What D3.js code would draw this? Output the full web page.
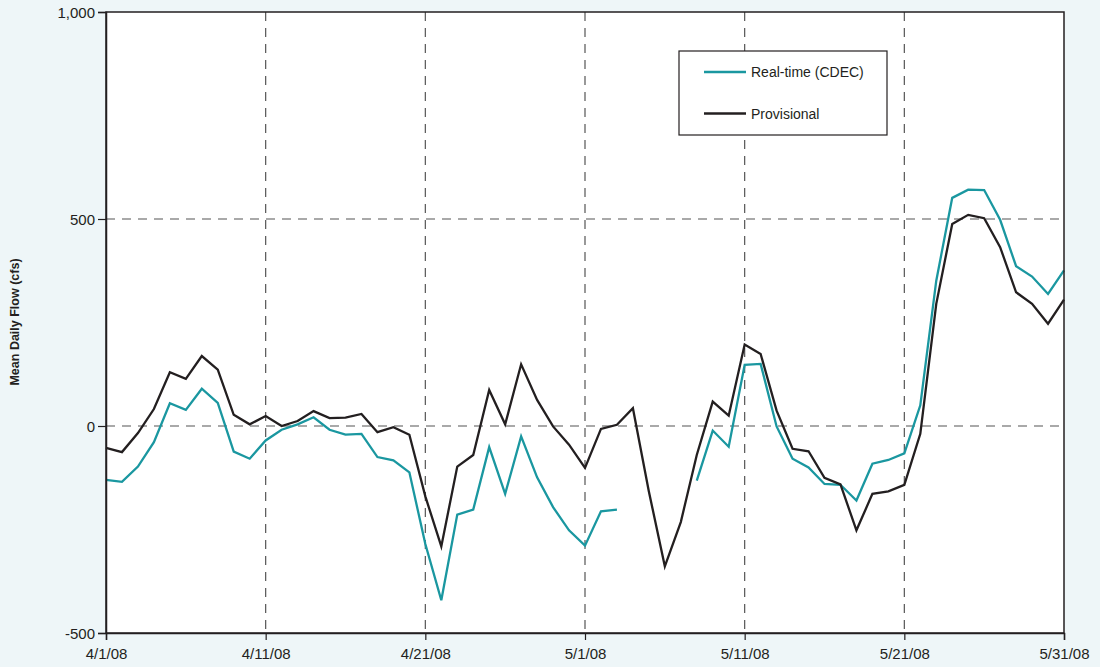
<!DOCTYPE html>
<html><head><meta charset="utf-8">
<script src="https://cdn.jsdelivr.net/npm/d3@7"></script>
<style>
html,body{margin:0;padding:0;background:#eef6f8;}
svg{display:block;font-family:"Liberation Sans",Arial,sans-serif;}
</style></head>
<body><svg id="chart" width="1100" height="667"></svg>
<script>
const startDate = "2008-04-01";
const realtime = [-130,-135,-98,-39,55,39,90,56,-62,-79,-35,-9,4,21,-9,-21,-19,-75,-83,-112,
  -285,-421,-214,-202,-51,-164,-25,-124,-196,-252,-289,-206,-202,null,null,null,null,-132,-11,-50,
  148,150,-1,-79,-100,-140,-142,-180,-91,-82,-66,50,351,551,571,570,498,386,361,319,376];
const provisional = [-53,-63,-17,41,130,114,169,136,27,4,24,0,12,36,19,20,29,-15,-3,-21,
  -170,-291,-98,-70,87,4,149,63,-1,-45,-101,-7,3,43,-158,-339,-232,-70,59,25,
  197,174,37,-55,-61,-125,-141,-252,-164,-158,-142,-19,295,488,510,502,432,323,295,247,305];
const yTicks = [-500,0,500,1000];
const xTickLabels = ["4/1/08","4/11/08","4/21/08","5/1/08","5/11/08","5/21/08","5/31/08"];
const seriesNames = ["Real-time (CDEC)","Provisional"];
const seriesColors = ["#1a97a0","#231f20"];

const svg = d3.select("#chart");
const L=106, R=1064, T=12, B=633;
const parse = d3.timeParse("%Y-%m-%d");
const d0 = parse(startDate);
const dates = realtime.map((_,i)=>d3.timeDay.offset(d0,i));
const x = d3.scaleTime().domain([dates[0], dates[dates.length-1]]).range([L,R]);
const y = d3.scaleLinear().domain([-500,1000]).range([B,T]);
const tickDates = xTickLabels.map(s=>{const p=s.split("/");return new Date(2000+ +p[2], +p[0]-1, +p[1]);});

svg.append("rect").attr("x",L).attr("y",T).attr("width",R-L).attr("height",B-T).attr("fill","#fff");

// grid
const g = svg.append("g");
g.selectAll("line.vg").data(tickDates.slice(1,-1)).join("line")
  .attr("x1",d=>x(d)).attr("x2",d=>x(d)).attr("y1",T).attr("y2",B)
  .attr("stroke","#555").attr("stroke-width",1.2).attr("stroke-dasharray","9,7");
g.selectAll("line.hg").data([0,500]).join("line")
  .attr("x1",L).attr("x2",R).attr("y1",d=>y(d)).attr("y2",d=>y(d))
  .attr("stroke","#555").attr("stroke-width",1.2).attr("stroke-dasharray","9,7");

// lines
const line = d3.line().defined(d=>d[1]!=null).x(d=>x(d[0])).y(d=>y(d[1]));
[realtime, provisional].forEach((s,k)=>{
  svg.append("path").datum(dates.map((d,i)=>[d,s[i]]))
    .attr("d",line).attr("fill","none").attr("stroke",seriesColors[k])
    .attr("stroke-width",2.3).attr("stroke-linejoin","miter");
});

// frame
svg.append("rect").attr("x",L).attr("y",T).attr("width",R-L).attr("height",B-T)
  .attr("fill","none").attr("stroke","#231f20").attr("stroke-width",1.5);

// axes
const fmt = d3.format(",");
const yAx = svg.append("g").attr("transform",`translate(${L},0)`)
  .call(d3.axisLeft(y).tickValues(yTicks).tickSize(8).tickPadding(3).tickFormat(d=>fmt(d).replace("\u2212","-")));
const xAx = svg.append("g").attr("transform",`translate(0,${B})`)
  .call(d3.axisBottom(x).tickValues(tickDates).tickSize(7).tickPadding(8).tickFormat((d,i)=>xTickLabels[i]));
[yAx,xAx].forEach(a=>{
  a.select(".domain").attr("stroke","#231f20").attr("stroke-width",1.5);
  a.selectAll(".tick line").attr("stroke","#231f20").attr("stroke-width",1.2);
  a.selectAll("text").attr("fill","#231f20").attr("font-size",15).attr("font-family","Liberation Sans, Arial, sans-serif");
});
yAx.selectAll("text").attr("dy","0.35em");

// y label
svg.append("text").attr("transform","translate(19,322) rotate(-90)")
  .attr("text-anchor","middle").attr("font-size",12.5).attr("font-weight","bold").attr("fill","#231f20")
  .text("Mean Daily Flow (cfs)");

// legend
const lg = svg.append("g");
lg.append("rect").attr("x",679).attr("y",51).attr("width",208).attr("height",84)
  .attr("fill","#fff").attr("stroke","#231f20").attr("stroke-width",1.2);
seriesNames.forEach((n,i)=>{
  const yy = 72 + i*41.5;
  lg.append("line").attr("x1",704).attr("x2",746).attr("y1",yy).attr("y2",yy)
    .attr("stroke",seriesColors[i]).attr("stroke-width",2.3);
  lg.append("text").attr("x",751).attr("y",yy+5).attr("font-size",14).attr("fill","#231f20").text(n);
});
</script></body></html>
